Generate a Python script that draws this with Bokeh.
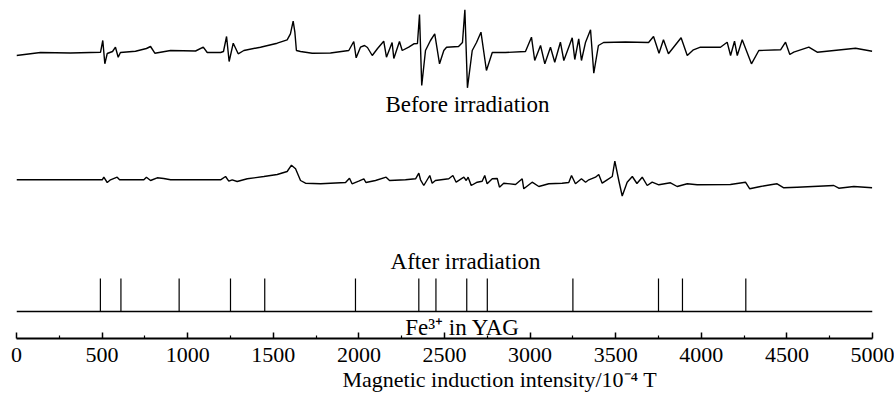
from bokeh.plotting import figure
from bokeh.models import Range1d, Label, FixedTicker, Span, Title
from bokeh.embed import file_html
from bokeh.resources import INLINE

# EPR spectrum before irradiation (field in 1e-4 T, intensity in arbitrary units)
field_before = [0, 140, 315, 491, 504, 516, 530, 561, 578, 594, 607, 695, 759, 783, 808,
                900, 1046, 1091, 1114, 1192, 1209, 1227, 1242, 1266, 1295, 1328, 1425, 1523,
                1581, 1600, 1616, 1626, 1635, 1659, 1727, 1834, 1941, 1970, 1984, 2009, 2033,
                2050, 2078, 2109, 2145, 2161, 2194, 2204, 2237, 2253, 2291, 2321, 2342, 2354,
                2367, 2389, 2418, 2443, 2471, 2496, 2512, 2582, 2605, 2619, 2634, 2662, 2687,
                2713, 2745, 2779, 2856, 2973, 3008, 3027, 3061, 3086, 3119, 3144, 3177, 3197,
                3246, 3261, 3284, 3300, 3324, 3353, 3372, 3399, 3429, 3557, 3692, 3721, 3753,
                3779, 3808, 3882, 3918, 3954, 3995, 4112, 4151, 4171, 4194, 4210, 4239, 4293,
                4336, 4463, 4492, 4517, 4540, 4628, 4677, 4901, 4998]
intensity_before = [-3, 0, -0.5, 0.3, 12, -11.3, -1, 1, 5.3, -4.7, 0, 1.3, 4, 6, -0.7,
                    2, 1.5, 5.3, 0, 0, 1, 16, -9, 9.3, -1.3, 2, 5.3, 9.3,
                    12.7, 18.7, 31.3, 20.3, 2, 1, -0.7, -0.5, 2, 11, -5.3, 5.3, 7,
                    5, -3, 4, 11.3, -4.7, 10, -6, 11, 2, 5.3, 8.7, 9, 38,
                    -33, 2, 12, 18.7, -11.3, 2, 5.3, 6, 10, 42.7, -35.3, 2, 10,
                    20.3, -18, 0, 0, 1, 15.3, -8, 7, -11.3, 5.3, -9.7, 10.3, -8,
                    14.7, -7, 13.7, -8, 10.3, 22.7, -20.7, 7, 10, 10.5, 10, 16, -0.7,
                    12.7, -1.3, 14.7, -3, 2.7, 5.3, 5.3, 10.3, -3, 11.3, -3, 12.7, -11.3,
                    2, 2.7, 10.3, -2, 0.3, 5.3, 0.3, 4.3, 1.3]

# EPR spectrum after irradiation
field_after = [0, 257, 501, 510, 530, 549, 588, 602, 744, 759, 783, 822, 860, 900, 1192,
               1221, 1240, 1260, 1289, 1348, 1445, 1523, 1581, 1606, 1630, 1659, 1688, 1776,
               1922, 1945, 1960, 1999, 2029, 2041, 2097, 2159, 2179, 2272, 2331, 2350, 2360,
               2379, 2414, 2428, 2447, 2525, 2549, 2568, 2613, 2627, 2638, 2656, 2691, 2720,
               2735, 2749, 2779, 2808, 2821, 2846, 2915, 2954, 2963, 3012, 3051, 3109, 3187,
               3226, 3242, 3265, 3300, 3324, 3343, 3382, 3401, 3421, 3450, 3480, 3495, 3518,
               3538, 3567, 3597, 3624, 3655, 3684, 3713, 3752, 3820, 3859, 3918, 3976, 4170,
               4258, 4283, 4346, 4414, 4443, 4482, 4560, 4774, 4803, 4891, 4998]
intensity_after = [0.7, 0.7, 0.7, 3.3, -2, 0.7, 3.3, 0.7, 0.7, 3.3, 0, 2.7, 2, 0.7, 0.7,
                   4, -0.7, 0.7, -1, 1.7, 4, 6, 9, 15.3, 11.7, 0, -2.7, -3.3,
                   -2, 2.3, -3.3, -0.7, 1.7, -2, 0, 3.3, 0, 0.7, 1.7, 7.3, 0.7,
                   -5, 5, -2.7, 0, 1.7, 5, -1.7, 3.3, 0, 3.3, -5, -1.7, -0.7,
                   5, -3.3, 1.7, 2, -6.7, -2.7, -4, 1.7, -8.3, -1.7, -6, -3.3, -2.7,
                   -2, 5, -3.3, 1.7, -1.7, 0.7, 3.3, 6, -2.7, 0.7, 4, 19.3, 0,
                   -15.5, -1.7, 4, -3, 3.3, -5, -1.7, -4.3, -2.3, -6, -3.3, -4.3, -4,
                   -1.7, -8.3, -6, -4, -3.3, -7.3, -6.7, -5, -7.7, -6, -7.3]

# Fe3+ in YAG reference line positions
fe_lines = [490, 610, 950, 1250, 1450, 1980, 2350, 2450, 2630, 2750, 3250, 3750, 3890, 4260]

x_ticks = [0, 500, 1000, 1500, 2000, 2500, 3000, 3500, 4000, 4500, 5000]
x_minor = [250, 750, 1250, 1750, 2250, 2750, 3250, 3750, 4250, 4750]

FONT = "Liberation Serif"
BEFORE_OFFSET = 286
AFTER_OFFSET = 158
STICK_BASE = 27
STICK_TOP = 60

p = figure(width=894, height=394, output_backend="svg", toolbar_location=None,
           x_range=Range1d(0, 5000), y_range=Range1d(0, 330),
           y_axis_location=None,
           min_border_left=16, min_border_right=22, min_border_top=8, min_border_bottom=56)
p.outline_line_color = None
p.xgrid.visible = False
p.ygrid.visible = False
p.background_fill_color = "white"

p.line(field_before, [BEFORE_OFFSET + v for v in intensity_before], line_color="black", line_width=1.4)
p.line(field_after, [AFTER_OFFSET + v for v in intensity_after], line_color="black", line_width=1.4)

p.segment(x0=fe_lines, y0=[STICK_BASE] * len(fe_lines), x1=fe_lines, y1=[STICK_TOP] * len(fe_lines),
          line_color="black", line_width=1.2)
p.add_layout(Span(location=STICK_BASE, dimension="width", line_color="black", line_width=1.3))

ax = p.xaxis[0]
ax.ticker = FixedTicker(ticks=x_ticks, minor_ticks=x_minor)
ax.axis_line_width = 2
ax.axis_line_color = "black"
ax.major_tick_in = 6
ax.major_tick_out = 0
ax.minor_tick_in = 3
ax.minor_tick_out = 0
ax.major_tick_line_width = 1.5
ax.minor_tick_line_width = 1.2
ax.major_tick_line_color = "black"
ax.minor_tick_line_color = "black"
ax.major_label_text_font = FONT
ax.major_label_text_font_size = "22px"
ax.major_label_text_color = "black"
ax.major_label_standoff = 9

xlabel = Title(text="Magnetic induction intensity/10⁻⁴ T", align="left", offset=326,
               text_font=FONT, text_font_size="22px", text_font_style="normal",
               text_color="black", standoff=0)
p.add_layout(xlabel, "below")

lab_style = dict(text_font=FONT, text_font_size="23px", text_color="black",
                 text_align="center", text_baseline="middle")
p.add_layout(Label(x=2634, y=234, text="Before irradiation", **lab_style))
p.add_layout(Label(x=2623, y=77, text="After irradiation", **lab_style))
p.add_layout(Label(x=2605, y=11, text="Fe³⁺ in YAG", **lab_style))

open("out.html", "w").write(file_html(p, INLINE))
